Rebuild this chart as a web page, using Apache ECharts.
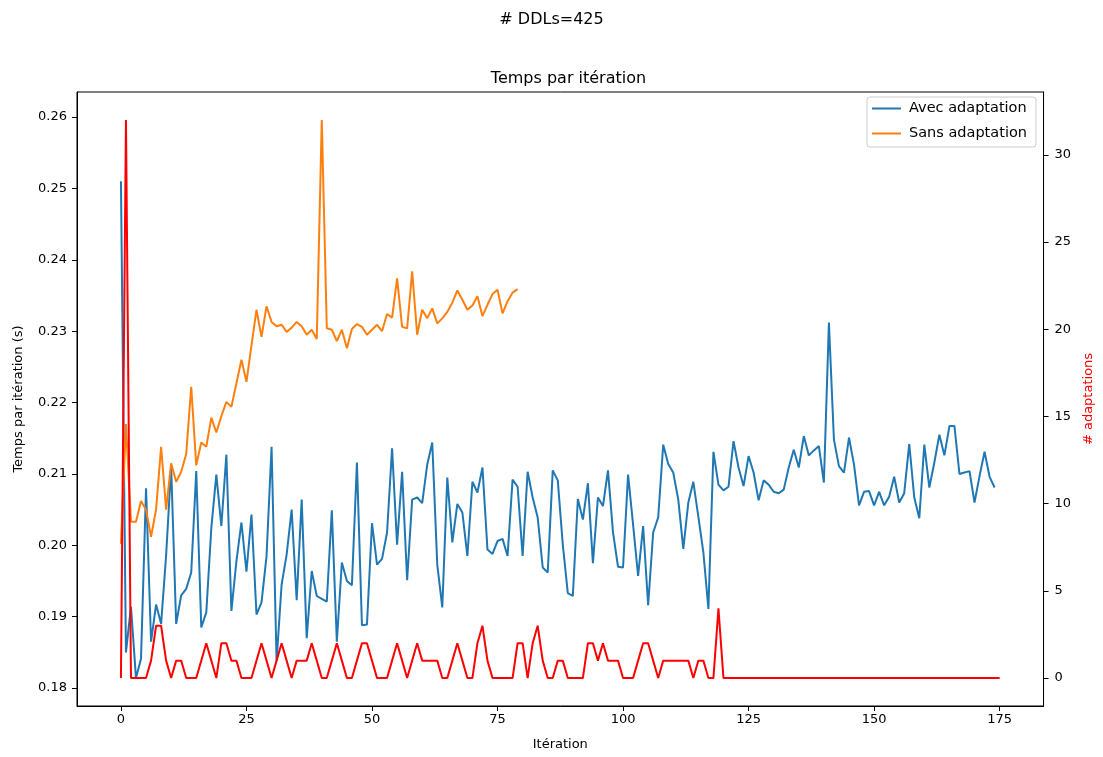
<!DOCTYPE html>
<html>
<head>
<meta charset="utf-8">
<script src="https://cdn.jsdelivr.net/npm/echarts@6/dist/echarts.min.js"></script>
<style>
  html, body { margin: 0; padding: 0; background: #ffffff; }
  #chart { width: 1103px; height: 757px; }
</style>
</head>
<body>
<div id="chart"></div>
<script>
// Time per iteration (s), with adaptation
const avecAdaptation = [
  0.2510, 0.1850, 0.1914, 0.1814, 0.1841, 0.2080, 0.1865, 0.1917, 0.1890, 0.1986,
  0.2110, 0.1890, 0.1930, 0.1939, 0.1962, 0.2104, 0.1885, 0.1906, 0.2024, 0.2099,
  0.2027, 0.2127, 0.1908, 0.1978, 0.2032, 0.1963, 0.2043, 0.1903, 0.1920, 0.1985,
  0.2138, 0.1838, 0.1945, 0.1987, 0.2050, 0.1923, 0.2064, 0.1870, 0.1964, 0.1929,
  0.1925, 0.1921, 0.2049, 0.1865, 0.1976, 0.1950, 0.1944, 0.2116, 0.1888, 0.1889,
  0.2031, 0.1973, 0.1981, 0.2018, 0.2136, 0.2001, 0.2103, 0.1951, 0.2064, 0.2067,
  0.2059, 0.2113, 0.2144, 0.1973, 0.1913, 0.2095, 0.2004, 0.2058, 0.2046, 0.1985,
  0.2089, 0.2074, 0.2109, 0.1994, 0.1988, 0.2006, 0.2009, 0.1985, 0.2092, 0.2082,
  0.1985, 0.2103, 0.2067, 0.2039, 0.1969, 0.1962, 0.2105, 0.2091, 0.2001, 0.1933,
  0.1929, 0.2065, 0.2036, 0.2087, 0.1975, 0.2067, 0.2055, 0.2105, 0.2018, 0.1970,
  0.1969, 0.2099, 0.2029, 0.1957, 0.2027, 0.1916, 0.2018, 0.2039, 0.2141, 0.2114,
  0.2102, 0.2064, 0.1995, 0.2060, 0.2089, 0.2040, 0.1990, 0.1911, 0.2131, 0.2085,
  0.2077, 0.2082, 0.2146, 0.2109, 0.2083, 0.2125, 0.2102, 0.2063, 0.2091, 0.2085,
  0.2075, 0.2073, 0.2078, 0.2109, 0.2134, 0.2109, 0.2153, 0.2126, 0.2133, 0.2139,
  0.2088, 0.2312, 0.2148, 0.2111, 0.2102, 0.2151, 0.2113, 0.2056, 0.2075, 0.2076,
  0.2056, 0.2075, 0.2056, 0.2068, 0.2096, 0.2060, 0.2073, 0.2142, 0.2067, 0.2038,
  0.2141, 0.2081, 0.2116, 0.2155, 0.2126, 0.2167, 0.2167, 0.2100, 0.2102, 0.2104,
  0.2060, 0.2097, 0.2131, 0.2096, 0.2081
];

// Time per iteration (s), without adaptation
const sansAdaptation = [
  0.2002, 0.2170, 0.2033, 0.2033, 0.2062, 0.2050, 0.2012, 0.2050, 0.2138, 0.2050,
  0.2115, 0.2089, 0.2103, 0.2128, 0.2222, 0.2112, 0.2144, 0.2138, 0.2179, 0.2158,
  0.2181, 0.2201, 0.2194, 0.2227, 0.2260, 0.2229, 0.2280, 0.2330, 0.2292, 0.2335,
  0.2313, 0.2307, 0.2309, 0.2299, 0.2305, 0.2313, 0.2307, 0.2295, 0.2302, 0.2289,
  0.2596, 0.2304, 0.2302, 0.2286, 0.2302, 0.2276, 0.2303, 0.2310, 0.2306, 0.2295,
  0.2302, 0.2309, 0.2300, 0.2324, 0.2319, 0.2374, 0.2306, 0.2304, 0.2384, 0.2295,
  0.2330, 0.2318, 0.2332, 0.2311, 0.2318, 0.2327, 0.2340, 0.2357, 0.2344, 0.2330,
  0.2336, 0.2349, 0.2321, 0.2337, 0.2352, 0.2358, 0.2325, 0.2342, 0.2354, 0.2359
];

// Number of adaptations per iteration (right axis)
const nbAdaptations = [
  0, 32, 0, 0, 0, 0, 1, 3, 3, 1,
  0, 1, 1, 0, 0, 0, 1, 2, 1, 0,
  2, 2, 1, 1, 0, 0, 0, 1, 2, 1,
  0, 1, 2, 1, 0, 1, 1, 1, 2, 1,
  0, 0, 1, 2, 1, 0, 0, 1, 2, 2,
  1, 0, 0, 0, 1, 2, 1, 0, 1, 2,
  1, 1, 1, 1, 0, 0, 1, 2, 1, 0,
  0, 2, 3, 1, 0, 0, 0, 0, 0, 2,
  2, 0, 2, 3, 1, 0, 0, 1, 1, 0,
  0, 0, 0, 2, 2, 1, 2, 1, 1, 1,
  0, 0, 0, 1, 2, 2, 1, 0, 1, 1,
  1, 1, 1, 1, 0, 1, 1, 0, 0, 4,
  0, 0, 0, 0, 0, 0, 0, 0, 0, 0,
  0, 0, 0, 0, 0, 0, 0, 0, 0, 0,
  0, 0, 0, 0, 0, 0, 0, 0, 0, 0,
  0, 0, 0, 0, 0, 0, 0, 0, 0, 0,
  0, 0, 0, 0, 0, 0, 0, 0, 0, 0,
  0, 0, 0, 0, 0, 0
];

const xTicks = [0, 25, 50, 75, 100, 125, 150, 175];
const leftTicks = [0.18, 0.19, 0.20, 0.21, 0.22, 0.23, 0.24, 0.25, 0.26];
const rightTicks = [0, 5, 10, 15, 20, 25, 30];

const FONT = 'DejaVu Sans';
const pairs = arr => arr.map((v, i) => [i, v]);

// Axis extents with a 5% margin around the data
function padded(values, frac) {
  const lo = Math.min(...values), hi = Math.max(...values);
  const m = (hi - lo) * frac;
  return [lo - m, hi + m];
}
const nMax = Math.max(avecAdaptation.length, sansAdaptation.length, nbAdaptations.length) - 1;
const xExt = padded([0, nMax], 0.05);
const yExt = padded(avecAdaptation.concat(sansAdaptation), 0.05);
const y2Ext = padded(nbAdaptations, 0.05);

const chart = echarts.init(document.getElementById('chart'), null, { renderer: 'canvas' });

const tickLabel = { fontFamily: FONT, fontSize: 13, color: '#000' };
const blackLine = { show: true, onZero: false, lineStyle: { color: '#000', width: 1 } };

chart.setOption({
  animation: false,
  backgroundColor: '#ffffff',
  title: [
    {
      text: '# DDLs=425',
      left: 'center',
      top: 7,
      textStyle: { fontFamily: FONT, fontSize: 16, fontWeight: 'normal', color: '#000' }
    },
    {
      text: 'Temps par itération',
      left: 563.5,
      textAlign: 'center',
      top: 66,
      textStyle: { fontFamily: FONT, fontSize: 16, fontWeight: 'normal', color: '#000' }
    }
  ],
  legend: {
    data: ['Avec adaptation', 'Sans adaptation'],
    orient: 'vertical',
    left: 867,
    top: 97,
    icon: 'rect',
    itemWidth: 29,
    itemHeight: 2,
    itemGap: 10,
    padding: [4, 9, 6, 5],
    backgroundColor: 'rgba(255,255,255,0.8)',
    borderColor: '#cccccc',
    borderWidth: 1,
    borderRadius: 3,
    textStyle: { fontFamily: FONT, fontSize: 14.5, color: '#000', padding: [0, 0, 0, 3] }
  },
  grid: {
    left: 77, right: 53, top: 92, bottom: 51,
    show: true, borderColor: '#000', borderWidth: 1, backgroundColor: 'transparent'
  },
  xAxis: {
    type: 'value',
    min: xExt[0], max: xExt[1],
    name: 'Itération',
    nameLocation: 'middle',
    nameGap: 32,
    nameTextStyle: { fontFamily: FONT, fontSize: 13, color: '#000' },
    axisLine: blackLine,
    axisTick: { show: true, inside: false, length: 5, customValues: xTicks, lineStyle: { color: '#000' } },
    axisLabel: Object.assign({ margin: 7, customValues: xTicks, formatter: v => String(v) }, tickLabel),
    splitLine: { show: false }
  },
  yAxis: [
    {
      type: 'value',
      position: 'left',
      min: yExt[0], max: yExt[1],
      name: 'Temps par itération (s)',
      nameLocation: 'middle',
      nameGap: 52,
      nameTextStyle: { fontFamily: FONT, fontSize: 13, color: '#000' },
      axisLine: blackLine,
      axisTick: { show: true, inside: false, length: 5, customValues: leftTicks, lineStyle: { color: '#000' } },
      axisLabel: Object.assign({ margin: 10, customValues: leftTicks, formatter: v => v.toFixed(2) }, tickLabel),
      splitLine: { show: false }
    },
    {
      type: 'value',
      position: 'right',
      min: y2Ext[0], max: y2Ext[1],
      name: '# adaptations',
      nameLocation: 'middle',
      nameGap: 38,
      nameRotate: 90,
      nameTextStyle: { fontFamily: FONT, fontSize: 13, color: '#ff0000' },
      axisLine: blackLine,
      axisTick: { show: true, inside: false, length: 5, customValues: rightTicks, lineStyle: { color: '#000' } },
      axisLabel: Object.assign({ margin: 11, customValues: rightTicks, formatter: v => String(v) }, tickLabel),
      splitLine: { show: false }
    }
  ],
  series: [
    {
      name: 'Avec adaptation',
      type: 'line',
      yAxisIndex: 0,
      data: pairs(avecAdaptation),
      showSymbol: false,
      color: '#1f77b4',
      lineStyle: { width: 2, color: '#1f77b4' }
    },
    {
      name: 'Sans adaptation',
      type: 'line',
      yAxisIndex: 0,
      data: pairs(sansAdaptation),
      showSymbol: false,
      color: '#ff7f0e',
      lineStyle: { width: 2, color: '#ff7f0e' }
    },
    {
      name: '# adaptations',
      type: 'line',
      yAxisIndex: 1,
      data: pairs(nbAdaptations),
      showSymbol: false,
      color: '#ff0000',
      lineStyle: { width: 2, color: '#ff0000' }
    }
  ]
});
</script>
</body>
</html>
